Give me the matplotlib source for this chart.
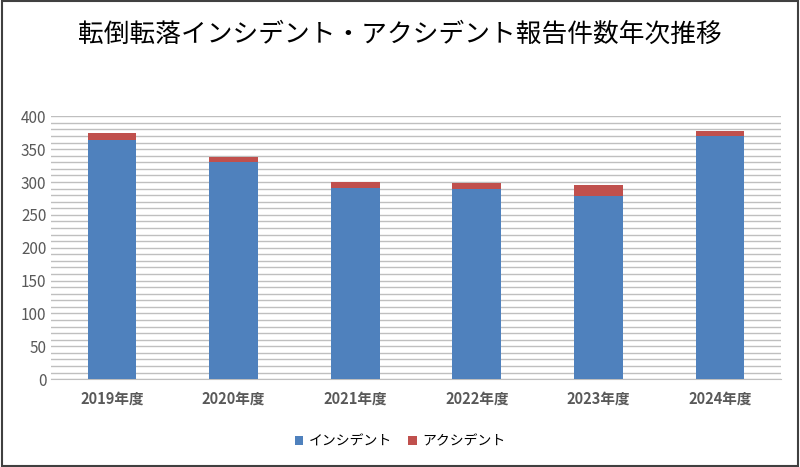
import matplotlib
matplotlib.use("Agg")
import matplotlib.pyplot as plt
from matplotlib.patches import Rectangle
plt.rcParams["font.family"] = ["Noto Sans CJK JP"]

categories = ["2019年度", "2020年度", "2021年度", "2022年度", "2023年度", "2024年度"]
incident = [364, 331, 291, 289, 279, 370]
accident = [10, 7, 9, 9, 17, 8]

fig = plt.figure(figsize=(8, 4.67), dpi=100)
fig.patches.append(Rectangle((0.002, 0.002), 0.996, 0.996, transform=fig.transFigure,
                             fill=False, edgecolor="#404040", linewidth=1.5))
ax = fig.add_axes([0.064, 0.188, 0.912, 0.563])
x = range(len(categories))
ax.bar(x, incident, width=0.4, color="#4F81BD", label="インシデント", zorder=3)
ax.bar(x, accident, width=0.4, bottom=incident, color="#C0504D", label="アクシデント", zorder=3)
ax.set_ylim(0, 400)
ax.set_xlim(-0.5, 5.5)
ax.set_yticks(range(0, 401, 50))
ax.set_yticks(range(0, 401, 10), minor=True)
ax.grid(axis="y", which="both", color="#BFBFBF", linewidth=1, zorder=0)
ax.tick_params(axis="y", which="both", length=0, labelsize=11, labelcolor="#595959")
ax.set_xticks(list(x))
ax.set_xticklabels(categories, fontsize=10.5, color="#595959", fontweight="bold")
ax.tick_params(axis="x", length=0, pad=8)
for s in ["top", "right", "left"]:
    ax.spines[s].set_visible(False)
ax.spines["bottom"].set_color("#BFBFBF")
fig.text(0.5, 0.925, "転倒転落インシデント・アクシデント報告件数年次推移", ha="center", va="center", fontsize=18.5)
fig.legend(loc="center", bbox_to_anchor=(0.5, 0.055), ncol=2, frameon=False, fontsize=10,
           handlelength=0.6, handleheight=0.6, columnspacing=1.2, handletextpad=0.4)
fig.savefig("out.png", dpi=100)
